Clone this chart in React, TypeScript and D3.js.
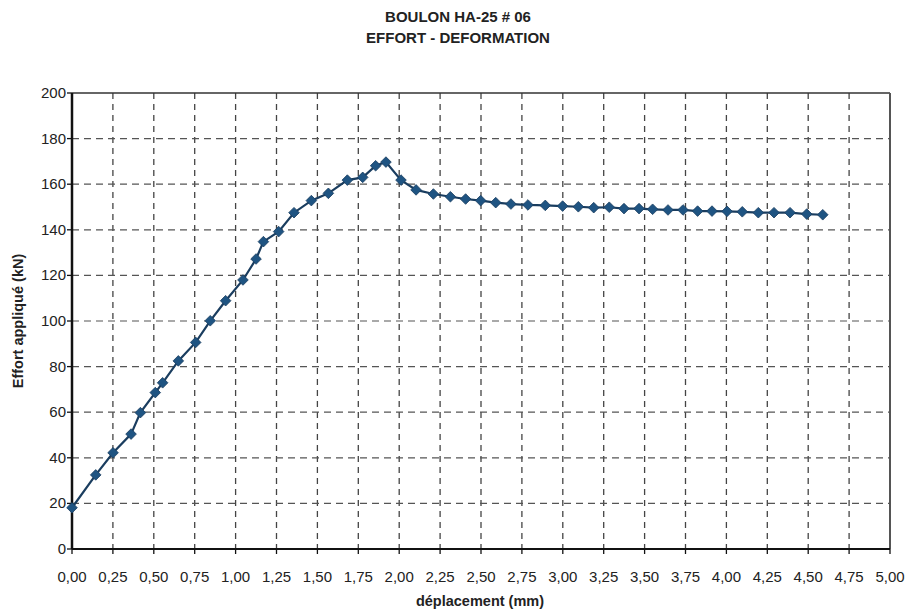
import React from "react";
import * as d3 from "d3";

const titleLines = ["BOULON HA-25 # 06", "EFFORT - DEFORMATION"];
const xLabel = "déplacement (mm)";
const yLabel = "Effort appliqué (kN)";

const displacement = [
  0.0, 0.145, 0.251, 0.361, 0.418, 0.509, 0.554, 0.65, 0.756, 0.845, 0.939, 1.045,
  1.125, 1.17, 1.263, 1.357, 1.463, 1.567, 1.683, 1.777, 1.856, 1.919, 2.011, 2.103,
  2.209, 2.313, 2.406, 2.498, 2.59, 2.683, 2.787, 2.893, 2.999, 3.095, 3.189, 3.284,
  3.374, 3.466, 3.549, 3.643, 3.735, 3.824, 3.912, 4.004, 4.097, 4.195, 4.291, 4.389,
  4.491, 4.589,
];
const effort = [
  18.1, 32.5, 42.2, 50.4, 59.8, 68.6, 72.9, 82.5, 90.6, 100.1, 108.9, 118.0,
  127.2, 134.8, 139.2, 147.5, 152.8, 156.0, 161.8, 163.0, 168.1, 169.7, 161.8, 157.5,
  155.7, 154.5, 153.5, 152.8, 151.9, 151.3, 150.9, 150.7, 150.4, 150.1, 149.7, 149.9,
  149.3, 149.3, 149.0, 148.7, 148.7, 148.2, 148.2, 148.1, 147.9, 147.5, 147.5, 147.5,
  146.9, 146.6,
];

const xTicks = d3.range(0, 5.0001, 0.25);
const yTicks = d3.range(0, 200.0001, 20);

const W = 906;
const H = 612;
const left = 72;
const right = 890;
const top = 93;
const bottom = 549;

export default function App() {
  const x = d3.scaleLinear().domain([0, 5]).range([left, right]);
  const y = d3.scaleLinear().domain([0, 200]).range([bottom, top]);
  const pts = displacement.map((d, i) => [d, effort[i]] as [number, number]);
  const line = d3
    .line<[number, number]>()
    .x((d) => x(d[0]))
    .y((d) => y(d[1]))(pts);
  const diamond = d3.symbol().type(d3.symbolDiamond2).size(72)();
  const fmt = (v: number) => v.toFixed(2).replace(".", ",");
  const font = "'Liberation Sans', Arial, sans-serif";

  return (
    <svg
      width={W}
      height={H}
      style={{ position: "absolute", left: 0, top: 0, background: "#fff" }}
      fontFamily={font}
    >
      <rect x={0} y={0} width={W} height={H} fill="#fff" />
      {titleLines.map((t, i) => (
        <text
          key={t}
          x={458}
          y={22 + i * 21}
          textAnchor="middle"
          fontWeight="bold"
          fontSize={15}
          fill="#222"
        >
          {t}
        </text>
      ))}
      {/* grid */}
      {xTicks
        .filter((v) => v > 0 && v < 5)
        .map((v) => (
          <line
            key={"gx" + v}
            x1={x(v)}
            x2={x(v)}
            y1={top}
            y2={bottom}
            stroke="#444"
            strokeWidth={1.3}
            strokeDasharray="6,5"
          />
        ))}
      {yTicks
        .filter((v) => v > 0 && v < 200)
        .map((v) => (
          <line
            key={"gy" + v}
            x1={left}
            x2={right}
            y1={y(v)}
            y2={y(v)}
            stroke="#555"
            strokeWidth={1.2}
            strokeDasharray="7,5"
          />
        ))}
      {/* border */}
      <line x1={left} x2={right} y1={top} y2={top} stroke="#333" strokeWidth={1.5} />
      <line x1={right} x2={right} y1={top} y2={bottom} stroke="#555" strokeWidth={2} />
      <line x1={left} x2={right} y1={bottom} y2={bottom} stroke="#111" strokeWidth={2} />
      <line x1={left} x2={left} y1={top} y2={bottom} stroke="#111" strokeWidth={2.5} />
      {/* ticks */}
      {xTicks.map((v) => (
        <g key={"xt" + v}>
          <line x1={x(v)} x2={x(v)} y1={bottom} y2={bottom + 5} stroke="#111" strokeWidth={1.3} />
          <text x={x(v)} y={582} textAnchor="middle" fontSize={15} fill="#222">
            {fmt(v)}
          </text>
        </g>
      ))}
      {yTicks.map((v) => (
        <g key={"yt" + v}>
          <line x1={left - 5} x2={left} y1={y(v)} y2={y(v)} stroke="#111" strokeWidth={1.3} />
          <text x={66} y={y(v) + 5} textAnchor="end" fontSize={15} fill="#222">
            {v}
          </text>
        </g>
      ))}
      <text x={480} y={606} textAnchor="middle" fontWeight="bold" fontSize={14.5} fill="#222">
        {xLabel}
      </text>
      <text
        transform={`translate(23,${(top + bottom) / 2}) rotate(-90)`}
        textAnchor="middle"
        fontWeight="bold"
        fontSize={14.5}
        fill="#222"
      >
        {yLabel}
      </text>
      {/* series */}
      <path d={line ?? ""} fill="none" stroke="#1a3d5f" strokeWidth={2.2} />
      {pts.map((p, i) => (
        <path
          key={"m" + i}
          d={diamond ?? ""}
          transform={`translate(${x(p[0])},${y(p[1])})`}
          fill="#1f5482"
          stroke="#1a3d5f"
          strokeWidth={0.8}
        />
      ))}
    </svg>
  );
}
